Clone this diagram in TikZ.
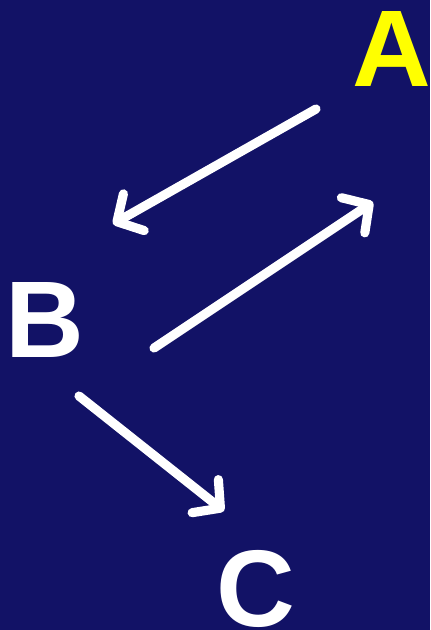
\documentclass[tikz,border=0pt]{standalone}
\usepackage{fontspec}
\setmainfont{Liberation Sans}
\usetikzlibrary{arrows.meta}
\definecolor{navy}{RGB}{18,18,102}
\definecolor{lettery}{RGB}{255,255,0}

\begin{document}
\begin{tikzpicture}[x=0.01cm,y=-0.01cm,
      letter/.style={font=\fontsize{31}{31}\selectfont\bfseries,text=white,inner sep=0pt},
      move/.style={white,line width=2.6pt,line cap=round,
        -{Straight Barb[length=5.5pt,width=12pt,round]}}]
      \fill[navy] (0,0) rectangle (430,630);
      \useasboundingbox (0,0) rectangle (430,630);
      \node[letter,text=lettery] (A) at (392,49) {A};
      \node[letter] (B) at (45,320) {B};
      \node[letter] (C) at (256,589) {C};
      % arrow ends
      \coordinate (ab1) at (316,109);
      \coordinate (ab2) at (113,224);
      \coordinate (ba1) at (154,348);
      \coordinate (ba2) at (373,202);
      \coordinate (bc1) at (79,396);
      \coordinate (bc2) at (224,511);
      \draw[move] (ab1) -- (ab2);
      \draw[move] (ba1) -- (ba2);
      \draw[move] (bc1) -- (bc2);
    \end{tikzpicture}
\end{document}
